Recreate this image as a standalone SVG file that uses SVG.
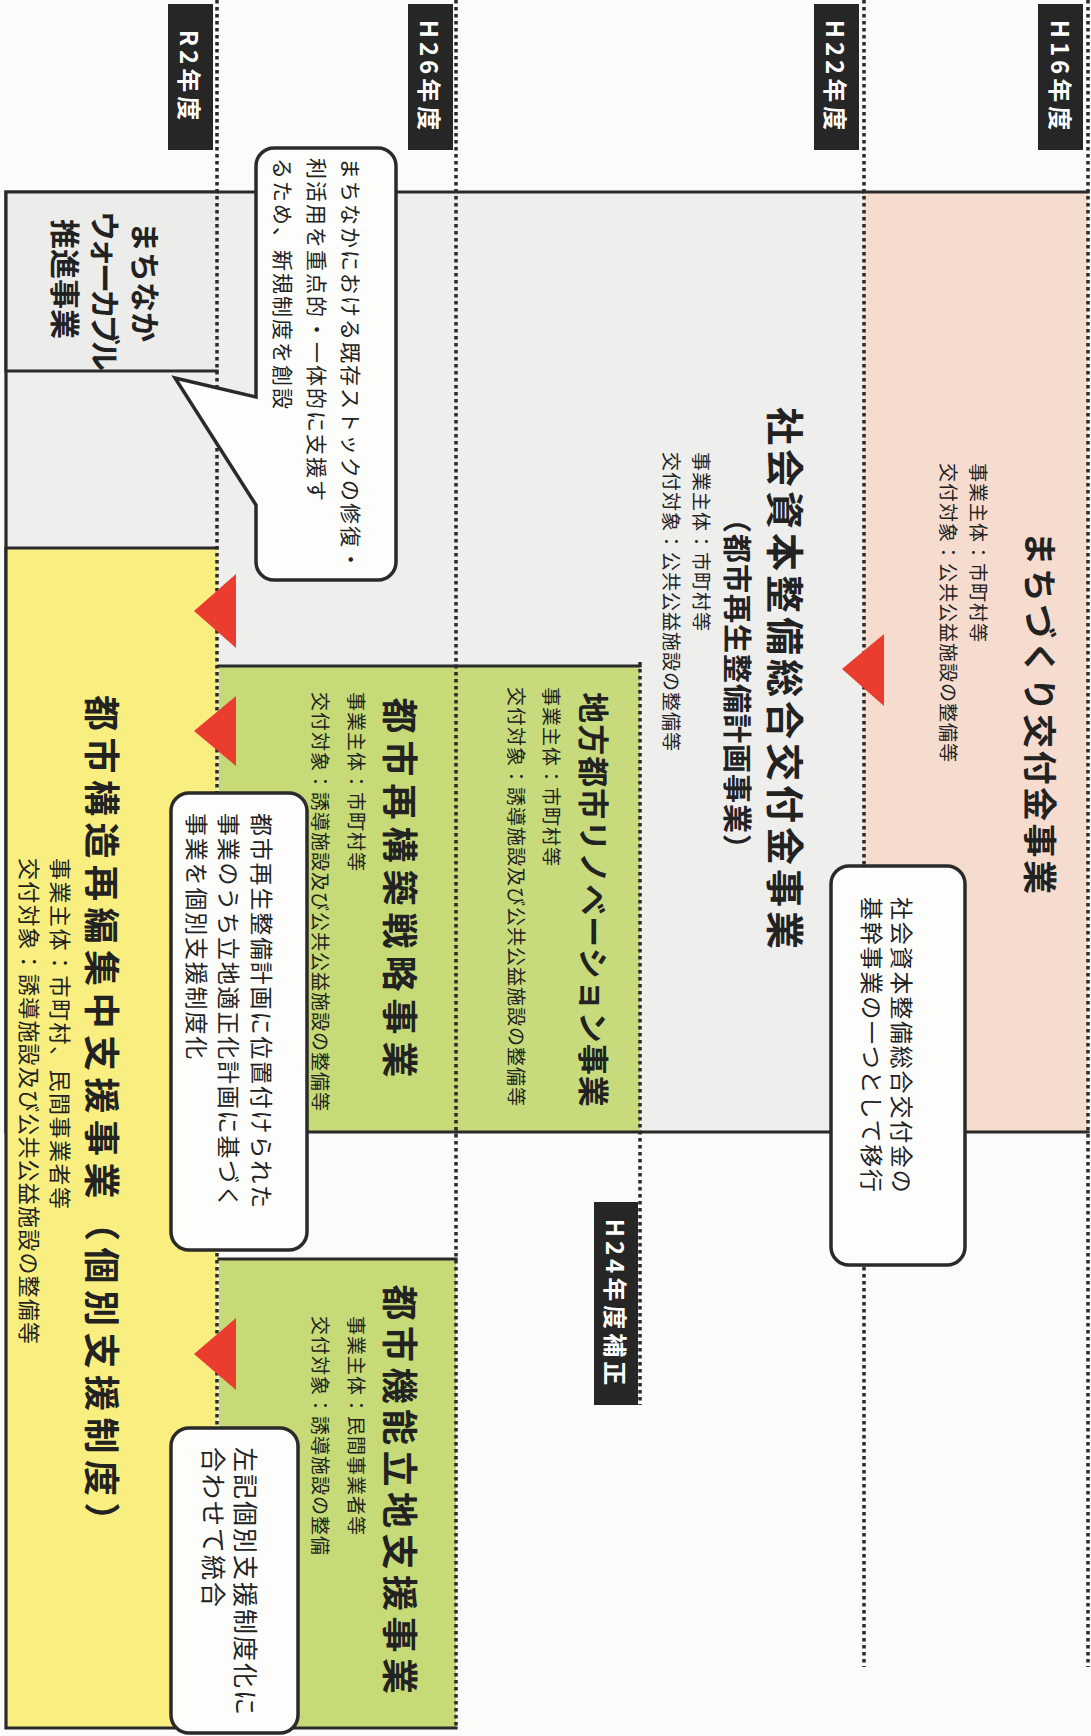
<svg xmlns="http://www.w3.org/2000/svg" width="1091" height="1736" viewBox="0 0 1091 1736">
<style>
text{font-family:"Noto Sans CJK JP","Noto Sans",sans-serif;fill:#222;}
.c{text-anchor:middle;dominant-baseline:central;}
.s{text-anchor:start;dominant-baseline:central;}
.b{font-weight:bold;}
.sm{font-size:19px;letter-spacing:1px;}
.lbl{fill:#262626;}
.lt{fill:#fff;font-weight:bold;font-size:24px;letter-spacing:4px;}
.edge{fill:none;stroke:#2a2a2a;stroke-width:3.2;stroke-linecap:square;}
.tl{fill:none;stroke:#2a2a2a;stroke-width:3.5;stroke-dasharray:3.5 3.5;}
.arr{fill:#eb3d2f;}
.co{fill:#fdfdfb;stroke:#2a2a2a;stroke-width:3.5;}
.ct{font-size:23px;letter-spacing:1.8px;}
</style>
<rect x="0" y="0" width="1091" height="1736" fill="#fbfbf9"/>

<g id="shakai">
<rect x="6" y="192" width="858" height="940" fill="#eeeeec"/>
<path class="edge" d="M6,192 H864 M6,192 V1132 M640,1132 H864"/>
<text class="c b" font-size="38" letter-spacing="4" transform="translate(787,680) rotate(90)">社会資本整備総合交付金事業</text>
<text class="c b" font-size="29" letter-spacing="1" transform="translate(739,684) rotate(90)">（都市再生整備計画事業）</text>
<text class="s sm" transform="translate(702,452) rotate(90)">事業主体：市町村等</text>
<text class="s sm" transform="translate(672,452) rotate(90)">交付対象：公共公益施設の整備等</text>
</g>

<g id="machizukuri">
<rect x="864" y="192" width="224" height="940" fill="#f5dccf"/>
<path class="edge" d="M864,192 H1088 M864,1132 H1088"/>
<text class="c b" font-size="34" letter-spacing="2.5" transform="translate(1041,714) rotate(90)">まちづくり交付金事業</text>
<text class="s sm" transform="translate(979,463) rotate(90)">事業主体：市町村等</text>
<text class="s sm" transform="translate(949,463) rotate(90)">交付対象：公共公益施設の整備等</text>
</g>

<g id="walkable">
<rect x="6" y="192" width="211" height="179" fill="#ececea"/>
<path class="edge" d="M6,192 H217 M6,192 V371 H217"/>
<text class="c b" font-size="30" transform="translate(147,282) rotate(90)">まちなか</text>
<text class="c b" font-size="30" letter-spacing="-4" transform="translate(107,289) rotate(90)">ウォーカブル</text>
<text class="c b" font-size="30" transform="translate(67,279) rotate(90)">推進事業</text>
</g>

<g id="chiho">
<rect x="456" y="666" width="184" height="466" fill="#c8db7c"/>
<path class="edge" d="M456,666 H640 M456,1132 H640"/>
<text class="c b" font-size="31" letter-spacing="1" transform="translate(595,900) rotate(90)">地方都市リノベーション事業</text>
<text class="s sm" transform="translate(552,687) rotate(90)">事業主体：市町村等</text>
<text class="s sm" transform="translate(517,687) rotate(90)">交付対象：誘導施設及び公共公益施設の整備等</text>
</g>

<g id="saikochiku">
<rect x="219" y="666" width="237" height="466" fill="#c6da77"/>
<path class="edge" d="M219,666 H456 M219,1132 H456"/>
<text class="c b" font-size="36" letter-spacing="7" transform="translate(402,891) rotate(90)">都市再構築戦略事業</text>
<text class="s sm" transform="translate(357,692) rotate(90)">事業主体：市町村等</text>
<text class="s sm" transform="translate(321,692) rotate(90)">交付対象：誘導施設及び公共公益施設の整備等</text>
</g>

<g id="kino">
<rect x="219" y="1259" width="237" height="469" fill="#c6da77"/>
<path class="edge" d="M219,1259 H456 M219,1728 H456"/>
<text class="c b" font-size="36" letter-spacing="5.5" transform="translate(402,1492) rotate(90)">都市機能立地支援事業</text>
<text class="s sm" transform="translate(357,1316) rotate(90)">事業主体：民間事業者等</text>
<text class="s sm" transform="translate(321,1316) rotate(90)">交付対象：誘導施設の整備</text>
</g>

<g id="toshikozo">
<rect x="6" y="548" width="211" height="1180" fill="#f8ef80"/>
<path class="edge" d="M217,548 H6 V1728 H217"/>
<text class="c b" font-size="36" letter-spacing="6.5" transform="translate(104,1120) rotate(90)">都市構造再編集中支援事業（個別支援制度）</text>
<text class="s" font-size="22" letter-spacing="1.5" transform="translate(62,858) rotate(90)">事業主体：市町村、民間事業者等</text>
<text class="s" font-size="22" letter-spacing="1.2" transform="translate(31,858) rotate(90)">交付対象：誘導施設及び公共公益施設の整備等</text>
</g>

<g id="timeline">
<path class="tl" d="M1088,0 V1667 M864,0 V1667 M640,662 V1405 M456,0 V1728 M217,0 V1728"/>
<g id="label-h16"><rect class="lbl" x="1038" y="4" width="45" height="146"/><text class="c lt" transform="translate(1061,77) rotate(90)">H16年度</text></g>
<g id="label-h22"><rect class="lbl" x="814" y="4" width="45" height="146"/><text class="c lt" transform="translate(836,77) rotate(90)">H22年度</text></g>
<g id="label-h26"><rect class="lbl" x="408" y="4" width="45" height="146"/><text class="c lt" transform="translate(430,77) rotate(90)">H26年度</text></g>
<g id="label-r2"><rect class="lbl" x="168" y="4" width="45" height="146"/><text class="c lt" letter-spacing="3" transform="translate(190,77) rotate(90)">R2年度</text></g>
<g id="label-h24"><rect class="lbl" x="594" y="1202" width="44" height="203"/><text class="c lt" font-size="25" letter-spacing="3" transform="translate(616,1304) rotate(90)">H24年度補正</text></g>
</g>

<g id="connectors">
<polygon class="arr" points="842,669 884,634 884,706"/>
<polygon class="arr" points="194,611 236,574 236,648"/>
<polygon class="arr" points="194,731 236,696 236,766"/>
<polygon class="arr" points="194,1354 236,1318 236,1390"/>
</g>

<g id="callout-a">
<rect class="co" x="831" y="866" width="134" height="399" rx="18"/>
<text class="s ct" transform="translate(903,897) rotate(90)">社会資本整備総合交付金の</text>
<text class="s ct" transform="translate(873,897) rotate(90)">基幹事業の一つとして移行</text>
</g>

<g id="callout-b">
<path class="co" d="M274,148 H378 A18,18 0 0 1 396,166 V562 A18,18 0 0 1 378,580 H274 A18,18 0 0 1 256,562 V505 L175,378 L256,397 V166 A18,18 0 0 1 274,148 Z"/>
<text class="s" font-size="21" letter-spacing="2" transform="translate(352,158) rotate(90)">まちなかにおける既存ストックの修復・</text>
<text class="s" font-size="21" letter-spacing="2" transform="translate(318,158) rotate(90)">利活用を重点的・一体的に支援す</text>
<text class="s" font-size="21" letter-spacing="2" transform="translate(284,158) rotate(90)">るため、新規制度を創設</text>
</g>

<g id="callout-c">
<rect class="co" x="171" y="793" width="136" height="457" rx="18"/>
<text class="s ct" transform="translate(263,813) rotate(90)">都市再生整備計画に位置付けられた</text>
<text class="s ct" transform="translate(230,813) rotate(90)">事業のうち立地適正化計画に基づく</text>
<text class="s ct" transform="translate(198,813) rotate(90)">事業を個別支援制度化</text>
</g>

<g id="callout-d">
<rect class="co" x="171" y="1428" width="127" height="305" rx="18"/>
<text class="s" font-size="25" letter-spacing="2" transform="translate(247,1447) rotate(90)">左記個別支援制度化に</text>
<text class="s" font-size="25" letter-spacing="2" transform="translate(215,1447) rotate(90)">合わせて統合</text>
</g>
</svg>
